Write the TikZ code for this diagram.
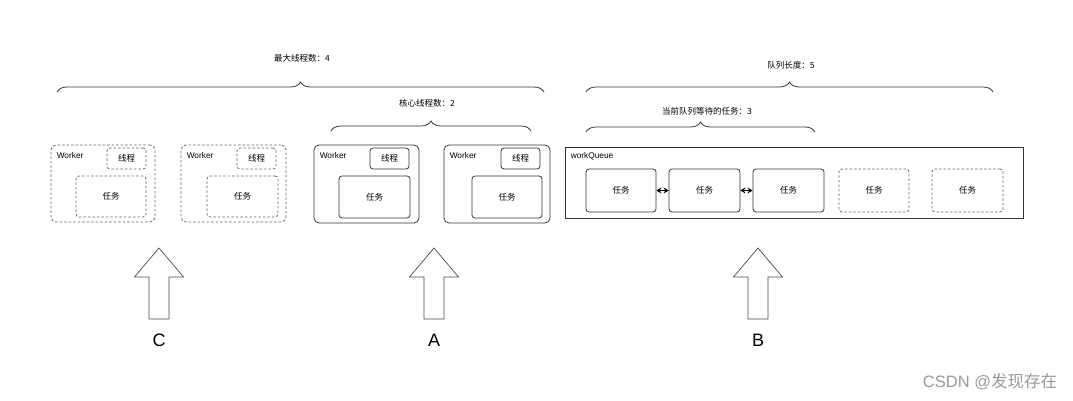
\documentclass[tikz,border=0pt]{standalone}
\usepackage{fontspec}
\setmainfont{Liberation Sans}
\newfontfamily\cjk{Noto Sans CJK SC}
\usetikzlibrary{decorations.pathreplacing,arrows.meta}
\definecolor{linec}{HTML}{333333}
\definecolor{dashc}{HTML}{666666}
\begin{document}
\begin{tikzpicture}[x=1pt,y=-1pt,
  box/.style={draw=linec,line width=0.8pt,rounded corners=3pt,inner sep=0pt,
    font=\cjk\fontsize{8.5}{10}\selectfont},
  dbox/.style={box,draw=dashc,dash pattern=on 2.5pt off 2pt},
  wsolid/.style={box,rounded corners=5pt},
  wdash/.style={dbox,rounded corners=5pt},
  lbl/.style={inner sep=0pt,anchor=west,font=\fontsize{8.3}{9}\selectfont},
  toplbl/.style={inner sep=0pt,font=\cjk\fontsize{8.5}{10}\selectfont},
  bracestyle/.style={draw=linec,line width=0.8pt,decorate,decoration={brace,amplitude=10pt}},
  bigarrow/.style={draw=black!70,line width=0.7pt,fill=white},
  letter/.style={inner sep=0pt,font=\fontsize{18}{20}\selectfont},
  linkarrow/.style={{Stealth[length=5pt,width=6pt]}-{Stealth[length=5pt,width=6pt]},line width=1.1pt,black}
]
\useasboundingbox[fill=white] (0,0) rectangle (1073,401);

% ---- braces and their labels
\draw[bracestyle] (57,92) -- (544,92);
\node[toplbl] (maxl) at (302,58) {最大线程数：4};
\draw[bracestyle] (331,131) -- (531,131);
\node[toplbl] (corel) at (427,103) {核心线程数：2};
\draw[bracestyle] (586,92) -- (993,92);
\node[toplbl] (qlen) at (791,65) {队列长度：5};
\draw[bracestyle] (586,132) -- (815,132);
\node[toplbl] (qwait) at (707,111) {当前队列等待的任务：3};

% ---- workers
\node[wdash, minimum width=104pt, minimum height=77pt] (w1) at (103,183.5) {};
\node[wdash, minimum width=105pt, minimum height=77pt] (w2) at (233.5,183.5) {};
\node[wsolid, minimum width=105pt, minimum height=78pt] (w3) at (366.5,184) {};
\node[wsolid, minimum width=106pt, minimum height=78pt] (w4) at (497,184) {};
\foreach \w in {w1,w2,w3,w4}{
  \node[lbl] (\w lab) at ([xshift=6pt,yshift=-10.5pt]\w.north west) {Worker};
}
\node[dbox, minimum width=39pt, minimum height=21pt] (th1) at (126.5,158.5) {线程};
\node[dbox, minimum width=39pt, minimum height=21pt] (th2) at (256.5,158.5) {线程};
\node[box, minimum width=39pt, minimum height=21pt] (th3) at (389.5,158.5) {线程};
\node[box, minimum width=39pt, minimum height=21pt] (th4) at (520.5,158.5) {线程};
\node[dbox, minimum width=70pt, minimum height=41pt] (tk1) at (111,196.5) {任务};
\node[dbox, minimum width=71pt, minimum height=41pt] (tk2) at (242.5,196.5) {任务};
\node[box, minimum width=71pt, minimum height=42pt] (tk3) at (374.5,197) {任务};
\node[box, minimum width=70pt, minimum height=42pt] (tk4) at (507,197) {任务};

% ---- work queue
\node[draw=linec,line width=0.8pt,minimum width=458pt,minimum height=71pt,inner sep=0pt] (wq) at (794,182.5) {};
\node[lbl] (wqlab) at ([xshift=6pt,yshift=-9.5pt]wq.north west) {workQueue};
\node[box, minimum width=70pt, minimum height=43pt] (q1) at (621,190.5) {任务};
\node[box, minimum width=71pt, minimum height=43pt] (q2) at (704.5,190.5) {任务};
\node[box, minimum width=71pt, minimum height=43pt] (q3) at (788.5,190.5) {任务};
\node[dbox, minimum width=70pt, minimum height=43pt] (q4) at (874,190.5) {任务};
\node[dbox, minimum width=71pt, minimum height=43pt] (q5) at (967.5,190.5) {任务};
\draw[linkarrow] (q1.east) -- (q2.west);
\draw[linkarrow] (q2.east) -- (q3.west);

% ---- big arrows
\foreach \cx/\nm/\t in {159/C/C,434/A/A,758/B/B}{
  \draw[bigarrow] (\cx,248) -- (\cx+24.5,277) -- (\cx+10,277) -- (\cx+10,319)
     -- (\cx-10,319) -- (\cx-10,277) -- (\cx-24.5,277) -- cycle;
  \node[letter] (lab\nm) at (\cx,340) {\t};
}

% ---- watermark
\node[inner sep=0pt,text=black!40,font=\fontsize{16.5}{18}\selectfont] (wm) at (990,382) {CSDN @{\cjk 发现存在}};
\end{tikzpicture}
\end{document}
